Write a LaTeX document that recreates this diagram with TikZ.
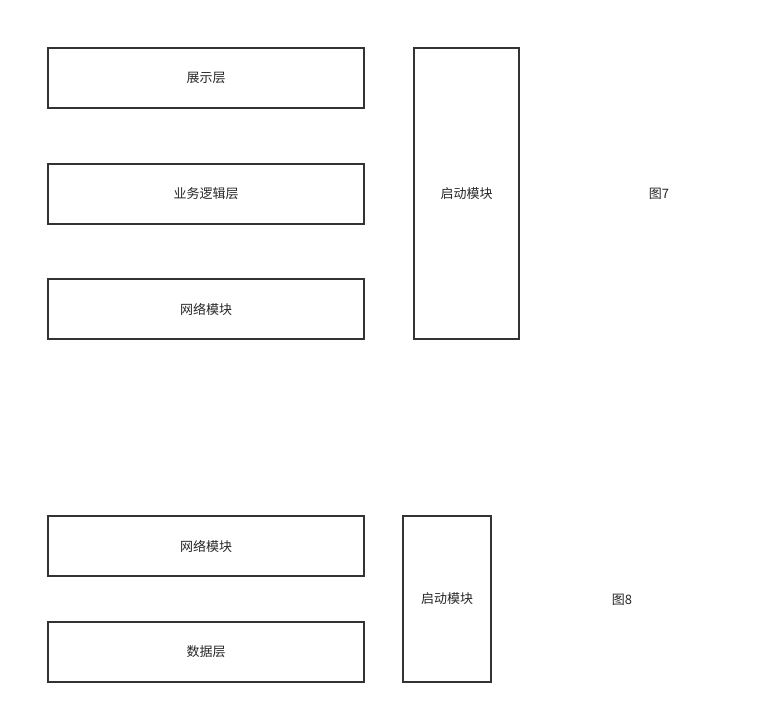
\documentclass[tikz,border=0pt]{standalone}
\usepackage{fontspec}
\setmainfont{Noto Sans CJK SC}
\begin{document}
\begin{tikzpicture}[x=0.75pt,y=-0.75pt,
  blk/.style={draw=black!80,line width=1.4pt,rectangle,inner sep=0pt,font=\fontsize{9.75}{11}\selectfont,text=black!85},
  lbl/.style={font=\fontsize{9.75}{11}\selectfont,text=black!85,inner sep=0pt}]
\useasboundingbox (0,0) rectangle (766,714);
\node[blk,minimum width=316*0.75pt,minimum height=60*0.75pt] (zs) at (206,78) {\raisebox{-0.75pt}{展示层}};
\node[blk,minimum width=316*0.75pt,minimum height=60*0.75pt] (yw) at (206,194) {\raisebox{-0.75pt}{业务逻辑层}};
\node[blk,minimum width=316*0.75pt,minimum height=60*0.75pt] (wl) at (206,309) {\raisebox{-0.75pt}{网络模块}};
\node[blk,minimum width=105*0.75pt,minimum height=291*0.75pt] (qd) at (466.5,193.5) {\raisebox{-0.75pt}{启动模块}};
\node[lbl] (t7) at (659,194) {图7};
\node[blk,minimum width=316*0.75pt,minimum height=60*0.75pt] (wl2) at (206,546) {\raisebox{-0.75pt}{网络模块}};
\node[blk,minimum width=316*0.75pt,minimum height=60*0.75pt] (sj) at (206,652) {\raisebox{-0.75pt}{数据层}};
\node[blk,minimum width=88*0.75pt,minimum height=166*0.75pt] (qd2) at (447,599) {\raisebox{-0.75pt}{启动模块}};
\node[lbl] (t8) at (622,600) {图8};
\end{tikzpicture}
\end{document}
